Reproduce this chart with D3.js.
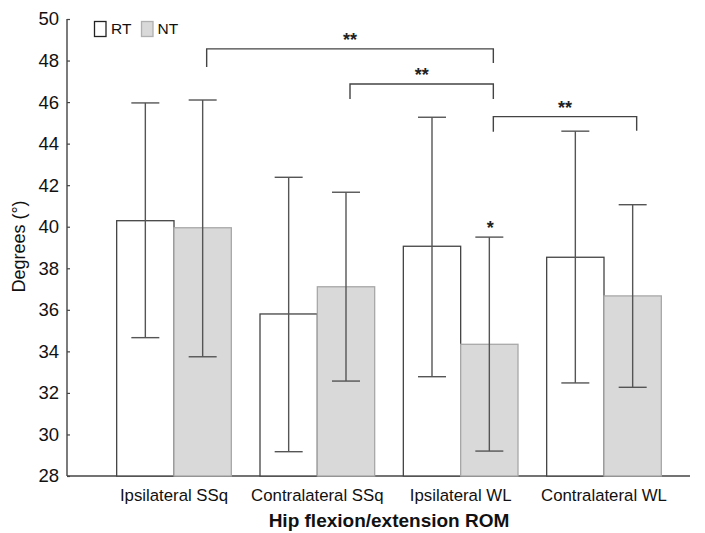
<!DOCTYPE html>
<html><head><meta charset="utf-8">
<script src="https://cdn.jsdelivr.net/npm/d3@7"></script>
<style>body{margin:0;background:#fff}svg{display:block}text{font-family:"Liberation Sans",Arial,sans-serif}</style>
</head><body>
<svg id="c" width="705" height="533"></svg>
<script>
const categories = ["Ipsilateral SSq","Contralateral SSq","Ipsilateral WL","Contralateral WL"];
const seriesNames = ["RT","NT"];
const rtMean = [40.29, 35.80, 39.06, 38.53];
const rtLow  = [34.66, 29.17, 32.78, 32.48];
const rtHigh = [45.96, 42.38, 45.27, 44.60];
const ntMean = [39.95, 37.11, 34.34, 36.67];
const ntLow  = [33.74, 32.57, 29.20, 32.27];
const ntHigh = [46.10, 41.66, 39.50, 41.06];
const yTicks = [28,30,32,34,36,38,40,42,44,46,48,50];
// significance brackets: from category index, to category index (NT bars), level in degrees
const brFrom = [0, 1, 2];
const brTo   = [2, 2, 3];
const brLevel = [48.56, 46.87, 45.30];
const brLabel = ["**","**","**"];

const svg = d3.select("#c");
const y = d3.scaleLinear().domain([28,50]).range([476,19]);
const x = d3.scaleBand().domain(categories).range([88,690]).padding(0.2);
const xs = d3.scaleBand().domain(seriesNames).range([0, x.bandwidth()]);
const axisCol = "#444";

// y axis
const yAxis = d3.axisLeft(y).tickValues(yTicks).tickSize(-3).tickPadding(8).tickFormat(d3.format("d"));
const gy = svg.append("g").attr("transform","translate(67,0)").call(yAxis);
gy.select(".domain").attr("stroke",axisCol).attr("stroke-width",1.4).attr("d","M0,19V476");
gy.selectAll(".tick line").attr("stroke",axisCol).attr("stroke-width",1.2);
gy.selectAll(".tick text").attr("font-size",18.5).attr("fill","#111").attr("font-family","Liberation Sans, Arial, sans-serif");

// baseline + category labels
svg.append("line").attr("x1",67).attr("x2",690).attr("y1",y(28)).attr("y2",y(28)).attr("stroke",axisCol).attr("stroke-width",1.4);
svg.append("g").selectAll("text").data(categories).join("text")
  .attr("x",d=>x(d)+x.bandwidth()/2).attr("y",501).attr("text-anchor","middle")
  .attr("font-size",16.8).attr("fill","#111").text(d=>d);

const rows = [];
categories.forEach((c,i)=>{
  rows.push({c, s:"RT", m:rtMean[i], lo:rtLow[i], hi:rtHigh[i]});
  rows.push({c, s:"NT", m:ntMean[i], lo:ntLow[i], hi:ntHigh[i]});
});
const cx = d => x(d.c) + xs(d.s) + xs.bandwidth()/2;

// bars
svg.append("g").selectAll("rect").data(rows).join("rect")
  .attr("x",d=>x(d.c)+xs(d.s)).attr("y",d=>y(d.m))
  .attr("width",xs.bandwidth()).attr("height",d=>y(28)-y(d.m))
  .attr("fill",d=>d.s==="RT"?"#fff":"#d9d9d9")
  .attr("stroke",d=>d.s==="RT"?"#444":"#a8a8a8")
  .attr("stroke-width",1.3);

// error bars
const eb = svg.append("g").attr("stroke","#555").attr("stroke-width",1.4);
eb.selectAll("line.v").data(rows).join("line").attr("class","v")
  .attr("x1",cx).attr("x2",cx).attr("y1",d=>y(d.lo)).attr("y2",d=>y(d.hi));
eb.selectAll("line.t").data(rows).join("line").attr("class","t")
  .attr("x1",d=>cx(d)-14).attr("x2",d=>cx(d)+14).attr("y1",d=>y(d.hi)).attr("y2",d=>y(d.hi));
eb.selectAll("line.b").data(rows).join("line").attr("class","b")
  .attr("x1",d=>cx(d)-14).attr("x2",d=>cx(d)+14).attr("y1",d=>y(d.lo)).attr("y2",d=>y(d.lo));

// single star above NT Ipsilateral WL
const starRow = rows.find(d=>d.c==="Ipsilateral WL" && d.s==="NT");
svg.append("text").attr("x",cx(starRow)+1).attr("y",y(starRow.hi)-3).attr("text-anchor","middle")
  .attr("font-size",18).attr("font-weight","bold").attr("fill","#222").text("*");

// brackets
const ntX = i => x(categories[i]) + xs("NT") + xs.bandwidth()/2 + 4;
const drops = [[18,14],[15,15],[15,14]];
brFrom.forEach((f,k)=>{
  const x1 = ntX(f), x2 = ntX(brTo[k]), yy = y(brLevel[k]);
  svg.append("path").attr("fill","none").attr("stroke","#444").attr("stroke-width",1.4)
    .attr("d",`M${x1},${yy+drops[k][0]}V${yy}H${x2}V${yy+drops[k][1]}`);
  svg.append("text").attr("x",(x1+x2)/2).attr("y",yy-3).attr("text-anchor","middle")
    .attr("font-size",18).attr("font-weight","bold").attr("fill","#222").text(brLabel[k]);
});

// legend
const lg = svg.append("g");
lg.append("rect").attr("x",94.5).attr("y",21.5).attr("width",11.5).attr("height",15).attr("fill","#fff").attr("stroke","#222").attr("stroke-width",1.3);
lg.append("text").attr("x",111).attr("y",34).attr("font-size",15.5).attr("fill","#111").text("RT");
lg.append("rect").attr("x",141.5).attr("y",21.5).attr("width",11.5).attr("height",15).attr("fill","#d9d9d9").attr("stroke","#b0b0b0").attr("stroke-width",1.3);
lg.append("text").attr("x",157.5).attr("y",34).attr("font-size",15.5).attr("fill","#111").text("NT");

// axis titles
svg.append("text").attr("transform","translate(25,246.5) rotate(-90)").attr("text-anchor","middle")
  .attr("font-size",18).attr("fill","#111").text("Degrees (°)");
svg.append("text").attr("x",389).attr("y",527).attr("text-anchor","middle")
  .attr("font-size",19).attr("font-weight","bold").attr("fill","#111").text("Hip flexion/extension ROM");
</script>
</body></html>
